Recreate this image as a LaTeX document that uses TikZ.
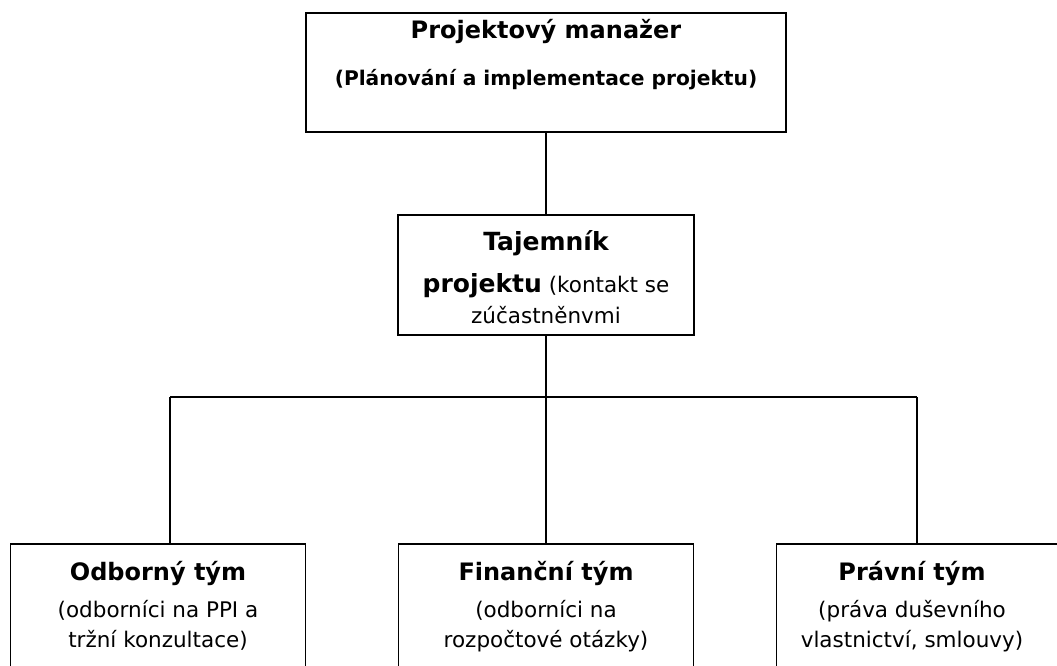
\documentclass[tikz,border=0pt]{standalone}
\usepackage{fontspec}
\setmainfont{DejaVu Sans}
\usetikzlibrary{positioning}

\begin{document}
\begin{tikzpicture}[
    x=1pt, y=-1pt,
    unit/.style={rectangle, draw, line width=1.3pt, minimum width=295pt, minimum height=140pt, inner sep=0pt},
    heading/.style={font=\bfseries\fontsize{24}{30}\selectfont, align=center, anchor=base},
    remark/.style={font=\fontsize{21.5}{30}\selectfont, align=center, anchor=base},
    link/.style={line width=1.3pt}
]
\clip (0,0) rectangle (1057,666);

% Boxes
\node[unit, minimum width=480pt, minimum height=119pt] (manager) at (546,72.5) {};
\node[unit, minimum width=296pt, minimum height=120pt] (secretary) at (546,275) {};
\node[unit] (expert) at (158,614) {};
\node[unit] (finance) at (546,614) {};
\node[unit] (legal) at (924,614) {};

% Texts
\node[heading] (manager_title) at (546,39) {Projektový manažer};
\node[heading, font=\bfseries\fontsize{20.2}{24}\selectfont] (manager_note) at (546,86) {(Plánování a implementace projektu)};

\node[heading, font=\bfseries\fontsize{25}{30}\selectfont] (secretary_title) at (546,250) {Tajemník};
\node[remark] (secretary_note) at (546,292) {{\bfseries\fontsize{25}{30}\selectfont projektu} (kontakt se};
\node[remark] (secretary_note2) at (546,323) {zúčastněnvmi};

\node[heading] (expert_title) at (158,580) {Odborný tým};
\node[remark] (expert_note) at (158,617) {(odborníci na PPI a};
\node[remark] (expert_note2) at (158,647) {tržní konzultace)};

\node[heading] (finance_title) at (546,580) {Finanční tým};
\node[remark] (finance_note) at (546,617) {(odborníci na};
\node[remark] (finance_note2) at (546,647) {rozpočtové otázky)};

\node[heading] (legal_title) at (912,580) {Právní tým};
\node[remark] (legal_note) at (912,617) {(práva duševního};
\node[remark] (legal_note2) at (912,647) {vlastnictví, smlouvy)};

% Connectors
\coordinate (hub) at (546,397);
\coordinate (bar_left) at (170,397);
\coordinate (bar_right) at (917,397);

\draw[link] (manager) -- (secretary);
\draw[link] (secretary) -- (hub);
\draw[link] (bar_left) -- (bar_right);
\draw[link] (bar_left) -- (bar_left |- expert.north);
\draw[link] (hub) -- (finance);
\draw[link] (bar_right) -- (bar_right |- legal.north);

\end{tikzpicture}
\end{document}
